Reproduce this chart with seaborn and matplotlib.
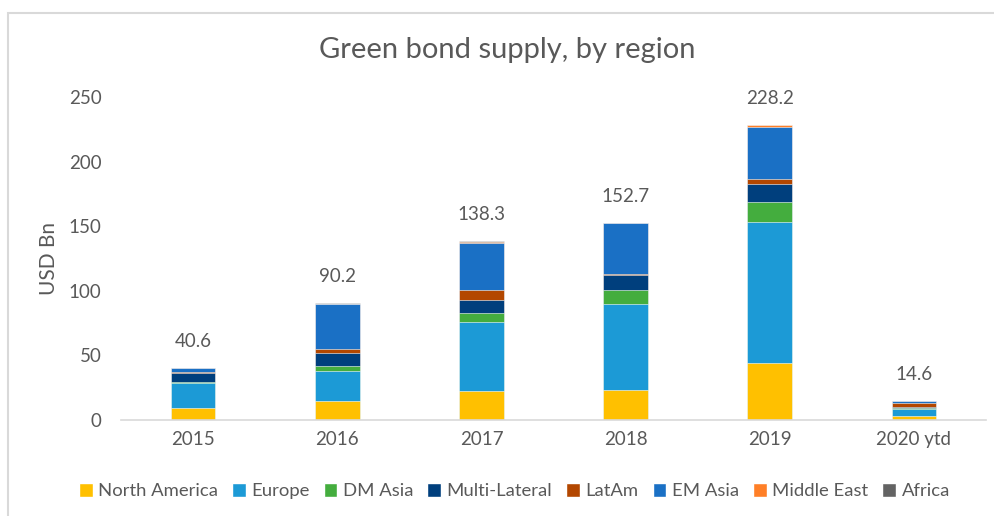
import numpy as np
import pandas as pd
import matplotlib
matplotlib.use("Agg")
import matplotlib.pyplot as plt
from matplotlib.patches import Patch, Rectangle
import seaborn as sns

# Dados (USD Bn)
years = ["2015", "2016", "2017", "2018", "2019", "2020 ytd"]
regions = ["North America", "Europe", "DM Asia", "Multi-Lateral",
           "LatAm", "EM Asia", "Middle East", "Africa"]
north_america = [9.5, 14.7, 22.4, 23.0, 43.9, 3.1]
europe = [18.9, 23.5, 53.7, 67.0, 109.6, 5.4]
dm_asia = [1.0, 3.6, 6.7, 10.4, 15.2, 0.5]
multi_lateral = [7.0, 9.8, 9.8, 11.8, 14.0, 0.8]
latam = [1.0, 3.4, 7.8, 1.0, 4.1, 3.6]
em_asia = [2.7, 34.8, 36.8, 39.3, 40.2, 1.2]
middle_east = [0.3, 0.2, 0.7, 0.1, 1.0, 0.0]
africa = [0.2, 0.2, 0.4, 0.1, 0.2, 0.0]
totals = [40.6, 90.2, 138.3, 152.7, 228.2, 14.6]

colors = ["#FFC000", "#1C9AD6", "#44AD3E", "#003F7D",
          "#B34700", "#1A70C5", "#FF7F27", "#636363"]

df = pd.DataFrame({"year": years, "North America": north_america, "Europe": europe,
                   "DM Asia": dm_asia, "Multi-Lateral": multi_lateral, "LatAm": latam,
                   "EM Asia": em_asia, "Middle East": middle_east, "Africa": africa})
cum = df[regions].cumsum(axis=1)
cum["year"] = df["year"]

sns.set_style("white")
plt.rcParams["font.family"] = ["Lato", "DejaVu Sans"]
txt = "#595959"

fig = plt.figure(figsize=(9.95, 5.16), dpi=100)
ax = fig.add_axes([0.1216, 0.186, 0.8694, 0.626])

# barras empilhadas: desenha do acumulado maior para o menor
for reg, col in reversed(list(zip(regions, colors))):
    sns.barplot(data=cum, x="year", y=reg, color=col, width=0.31, saturation=1,
                edgecolor="white", linewidth=0.4, ax=ax)

for i, t in enumerate(totals):
    ax.annotate(f"{t:.1f}", (i, t), xytext=(0, 13), textcoords="offset points",
                ha="center", va="bottom", fontsize=13.5, color=txt)

ax.set_ylim(0, 250)
ax.set_yticks(range(0, 251, 50))
ax.set_xlim(-0.5, 5.5)
ax.set_xlabel("")
ax.set_ylabel("USD Bn", fontsize=15, color=txt)
ax.yaxis.set_label_coords(-0.072, 0.5)
ax.tick_params(axis="y", length=0, pad=14, labelsize=13.5, labelcolor=txt)
ax.tick_params(axis="x", length=0, pad=8, labelsize=13.5, labelcolor=txt)
for s in ["top", "right", "left"]:
    ax.spines[s].set_visible(False)
ax.spines["bottom"].set_color("#D9D9D9")
ax.spines["bottom"].set_linewidth(1.2)

fig.text(0.51, 0.903, "Green bond supply, by region", ha="center", va="center",
         fontsize=21, color=txt)

handles = [Patch(facecolor=c, label=r) for r, c in zip(regions, colors)]
fig.legend(handles=handles, loc="center", bbox_to_anchor=(0.517, 0.048), ncol=8,
           frameon=False, handlelength=0.75, handleheight=0.75, handletextpad=0.3,
           columnspacing=0.75, fontsize=13.3, labelcolor=txt)

fig.patches.append(Rectangle((0.008, -0.1), 1.2, 1.075, transform=fig.transFigure,
                             fill=False, edgecolor="#D9D9D9", linewidth=1.5))

fig.savefig("out.png", dpi=100)
